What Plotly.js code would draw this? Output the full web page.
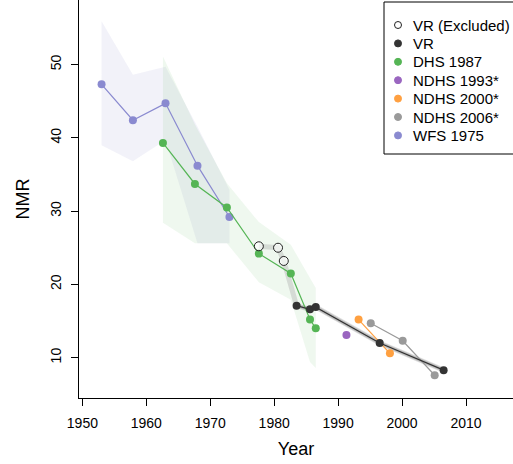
<!DOCTYPE html>
<html>
<head>
<meta charset="utf-8">
<script src="https://cdn.plot.ly/plotly-3.0.1.min.js"></script>
<style>html,body{margin:0;padding:0;background:#fff;}#chart{width:513px;height:464px;}</style>
</head>
<body>
<div id="chart"></div>
<script>
// ---- data ----
var wfsYears = [1953.0, 1957.9, 1963.0, 1968.0, 1973.0];
var wfsNMR   = [47.3, 42.4, 44.7, 36.2, 29.2];
var wfsLower = [39.0, 36.8, 39.7, 25.6, 25.6];
var wfsUpper = [55.9, 48.6, 49.7, 41.5, 32.9];

var dhsYears = [1962.6, 1967.6, 1972.6, 1977.6, 1982.6, 1985.6, 1986.5];
var dhsNMR   = [39.3, 33.7, 30.5, 24.2, 21.5, 15.2, 14.0];
var dhsLower = [28.4, 25.6, 25.6, 20.3, 17.9, 9.4, 8.6];
var dhsUpper = [51.1, 41.8, 33.8, 28.5, 25.4, 21.0, 19.5];

var vrExclYears = [1977.6, 1980.6, 1981.5];
var vrExclNMR   = [25.2, 25.0, 23.2];

var vrYears = [1983.5, 1985.6, 1986.5, 1996.5, 2006.5];
var vrNMR   = [17.1, 16.6, 16.9, 12.0, 8.3];

var ndhs1993Years = [1991.3];
var ndhs1993NMR   = [13.1];

var ndhs2000Years = [1993.2, 1998.1];
var ndhs2000NMR   = [15.2, 10.6];

var ndhs2006Years = [1995.1, 2000.1, 2005.1];
var ndhs2006NMR   = [14.7, 12.3, 7.6];

var legendNames = ["VR (Excluded)", "VR", "DHS 1987", "NDHS 1993*", "NDHS 2000*", "NDHS 2006*", "WFS 1975"];

// ---- styles ----
var cWFS = "#8a8ad0", cDHS = "#55b555", c93 = "#9a66c0", c00 = "#ffa040", c06 = "#9a9a9a", cVR = "#333333";
var legendColors = ["#222", cVR, cDHS, c93, c00, c06, cWFS];
var legendSymbols = ["circle-open", "circle", "circle", "circle", "circle", "circle", "circle"];

function band(xs, lo, hi, fill) {
  return {
    x: xs.concat(xs.slice().reverse()),
    y: hi.concat(lo.slice().reverse()),
    type: "scatter", mode: "lines", fill: "toself", fillcolor: fill,
    line: {width: 0, color: "rgba(0,0,0,0)"}, hoverinfo: "skip", showlegend: false
  };
}
function series(name, xs, ys, color, lw, ms, extra) {
  var t = {name: name, x: xs, y: ys, type: "scatter", mode: "lines+markers",
    line: {color: color, width: lw}, marker: {color: color, size: ms},
    showlegend: false};
  if (extra) for (var k in extra) t[k] = extra[k];
  return t;
}

var vrAllYears = vrExclYears.concat(vrYears);
var vrAllNMR = vrExclNMR.concat(vrNMR);

var legendIdx = legendNames.map(function (_, i) { return i; });

var traces = [
  band(wfsYears, wfsLower, wfsUpper, "rgba(140,140,200,0.11)"),
  band(dhsYears, dhsLower, dhsUpper, "rgba(110,190,110,0.11)"),
  {x: vrAllYears, y: vrAllNMR, type: "scatter", mode: "lines",
   line: {color: "rgba(175,175,175,0.4)", width: 5}, showlegend: false, hoverinfo: "skip"},
  {x: vrYears, y: vrNMR, type: "scatter", mode: "lines",
   line: {color: "rgba(120,120,120,0.3)", width: 3.5}, showlegend: false, hoverinfo: "skip"},
  series("WFS 1975", wfsYears, wfsNMR, cWFS, 1.2, 8),
  series("DHS 1987", dhsYears, dhsNMR, cDHS, 1.2, 8),
  series("NDHS 2000*", ndhs2000Years, ndhs2000NMR, c00, 1.2, 8),
  series("NDHS 2006*", ndhs2006Years, ndhs2006NMR, c06, 1.2, 8),
  series("NDHS 1993*", ndhs1993Years, ndhs1993NMR, c93, 1.2, 8, {mode: "markers"}),
  series("VR", vrYears, vrNMR, cVR, 1.2, 8),
  {name: "VR (Excluded)", x: vrExclYears, y: vrExclNMR, type: "scatter", mode: "markers",
   marker: {symbol: "circle", size: 9, color: "rgba(255,255,255,0.6)", line: {color: "#222", width: 1}},
   showlegend: false},
  // legend key markers, on a small helper axis pair covering the legend box
  {x: legendIdx.map(function () { return 14; }), y: legendIdx, xaxis: "x2", yaxis: "y2",
   type: "scatter", mode: "markers", showlegend: false, hoverinfo: "skip",
   marker: {color: legendColors, symbol: legendSymbols, size: 7, line: {color: legendColors, width: 1}}}
];

var font = "Liberation Sans, Arial, sans-serif";
var annotations = legendNames.map(function (n, i) {
  return {xref: "x2", yref: "y2", x: 27, y: i, text: n, showarrow: false,
    xanchor: "left", yanchor: "middle", font: {size: 15, family: font, color: "#000"}};
});

var layout = {
  width: 513, height: 464,
  margin: {l: 79, r: 0, t: 0, b: 66},
  paper_bgcolor: "#fff", plot_bgcolor: "rgba(0,0,0,0)",
  font: {family: font, color: "#000"},
  showlegend: false,
  annotations: annotations,
  shapes: [{type: "rect", xref: "paper", yref: "paper",
    x0: (384 - 79) / 434, x1: 1.05, y0: 1 - 154 / 398, y1: 1 - 2 / 398,
    line: {color: "#000", width: 1}, fillcolor: "#fff", layer: "below"}],
  xaxis: {
    range: [1949.47, 2017.35], tickvals: [1950, 1960, 1970, 1980, 1990, 2000, 2010],
    ticks: "outside", ticklen: 7, tickcolor: "#000", showline: true, linecolor: "#000", linewidth: 1,
    showgrid: false, zeroline: false, tickfont: {size: 14, family: font}, ticklabelstandoff: 5,
    title: {text: "Year", font: {size: 18, family: font}, standoff: 12}
  },
  yaxis: {
    range: [4.5, 58.8], tickvals: [10, 20, 30, 40, 50], tickangle: -90,
    ticks: "outside", ticklen: 7, tickcolor: "#000", showline: true, linecolor: "#000", linewidth: 1,
    showgrid: false, zeroline: false, tickfont: {size: 14, family: font}, ticklabelstandoff: 4,
    title: {text: "NMR", font: {size: 18, family: font}, standoff: 14}
  },
  xaxis2: {domain: [(384 - 79) / 434, 1], range: [0, 129], anchor: "y2", visible: false, fixedrange: true},
  yaxis2: {domain: [1 - 154 / 398, 1 - 2 / 398], range: [(154 - 25) / 18.4, (2 - 25) / 18.4],
    anchor: "x2", visible: false, fixedrange: true}
};
Plotly.newPlot("chart", traces, layout, {displayModeBar: false, staticPlot: true});
</script>
</body>
</html>
